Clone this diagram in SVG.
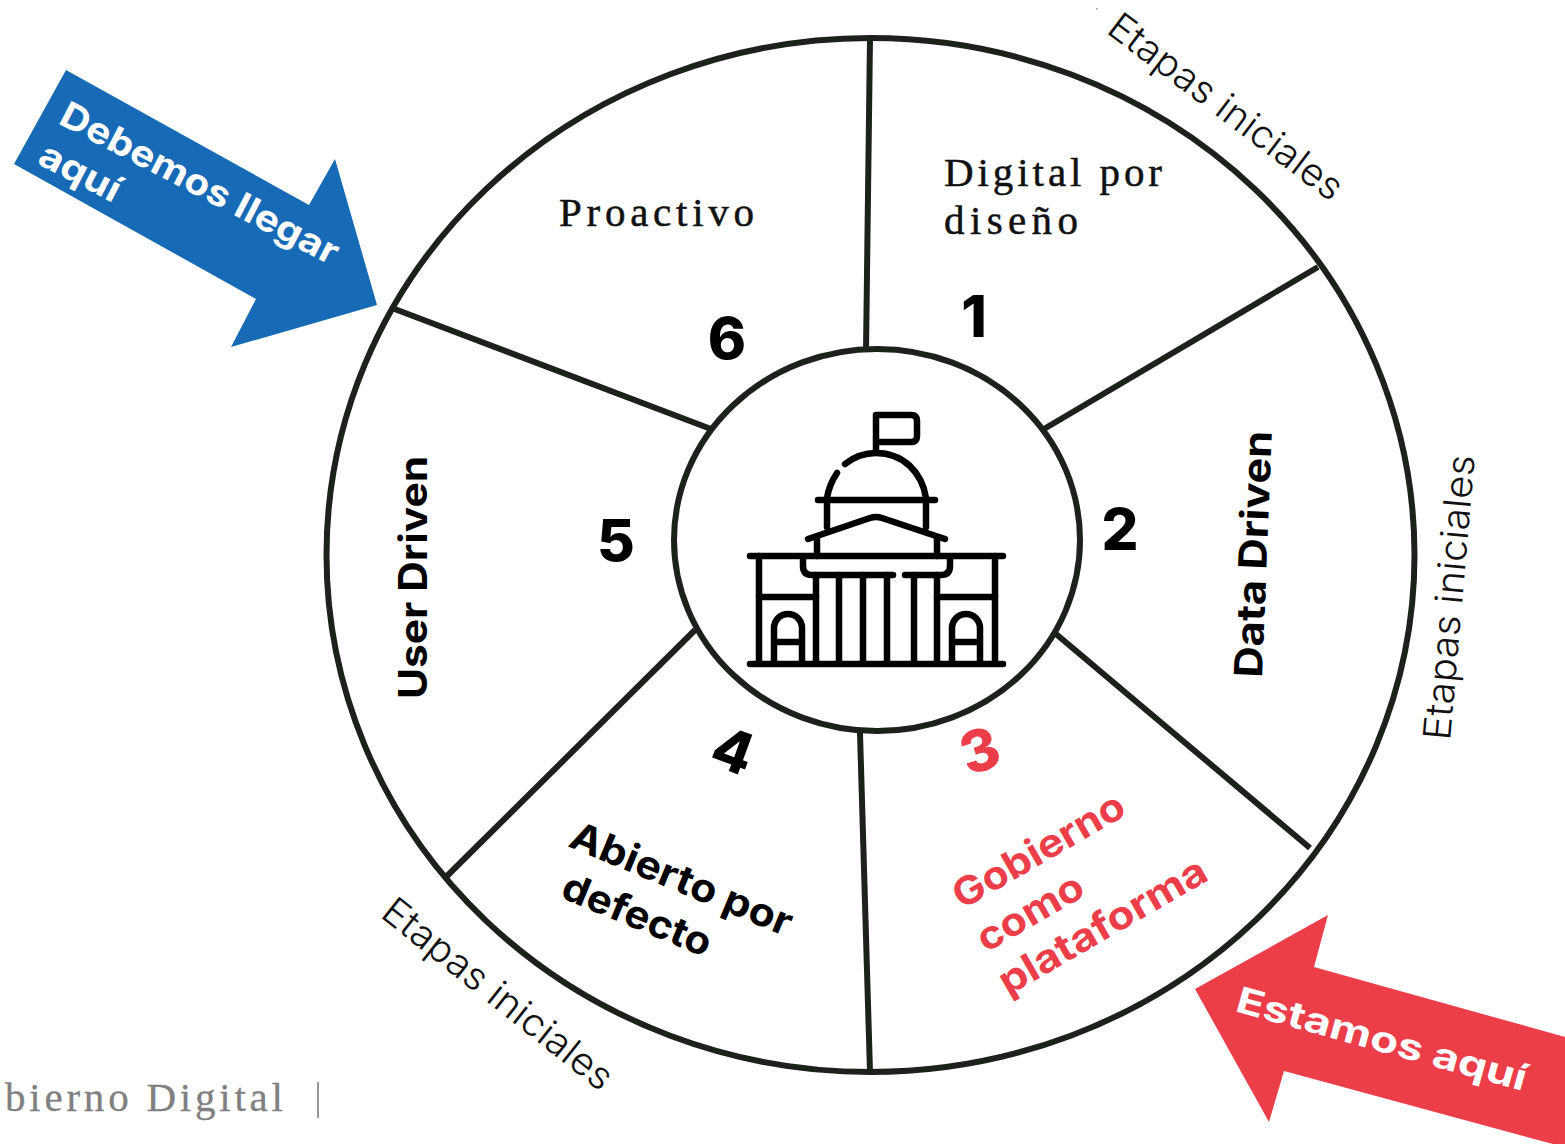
<svg xmlns="http://www.w3.org/2000/svg" width="1565" height="1144" viewBox="0 0 1565 1144">
<style>
.ring{fill:none;stroke:#1d211b;stroke-width:6}
.spoke{stroke:#1d211b;stroke-width:6;fill:none}
.ic{fill:none;stroke:#000;stroke-width:6.5;stroke-linecap:round;stroke-linejoin:round}
.b{font-family:"Inter","Open Sans",sans-serif;font-weight:700}
.l{font-family:"Inter","Open Sans",sans-serif;font-weight:300;font-size:38px;fill:#111}
.s{font-family:"Liberation Serif",serif;font-size:41px;fill:#111;stroke:#111;stroke-width:.5}
.n{font-size:58px;font-weight:800;fill:#000;text-anchor:middle}
.t{font-size:39px;fill:#000}
.r{fill:#ec3e49}
.w{fill:#fff;font-size:36px}
</style>
<rect width="1565" height="1144" fill="#fff"/>
<g id="connectors">
<ellipse class="ring" cx="870.5" cy="555" rx="544" ry="517"/>
<line class="spoke" x1="870" y1="38" x2="866" y2="352"/>
<line class="spoke" x1="1318" y1="267" x2="1044" y2="429"/>
<line class="spoke" x1="1310" y1="848" x2="1056" y2="634"/>
<line class="spoke" x1="870" y1="1072" x2="860" y2="733"/>
<line class="spoke" x1="446" y1="877" x2="695" y2="630"/>
<line class="spoke" x1="392" y1="308" x2="711" y2="429"/>
</g>
<g id="center">
<ellipse class="ring" cx="877" cy="540" rx="203" ry="191" fill="#fff"/>
<g class="ic">
<path d="M876,450V415H911Q917,415 917,421V436Q917,442 911,442H876"/>
<path d="M845,464Q859,453 876,453C903,453 922,472 926,498"/>
<path d="M837,473Q829,485 827,498"/>
<path d="M818,500H935"/>
<path d="M827,500V527M926,500V527"/>
<path d="M808,539L870,518Q876,516 882,518L945,539"/>
<path d="M817,539V556M937,539V556"/>
<path d="M750,556H1003"/>
<path d="M803,558V566Q803,575 812,575H893M905,575H941Q950,575 950,566V558"/>
<path d="M816,575V663M839,575V663M863,575V663M887,575V663M914,575V663M937,575V663"/>
<path d="M759,556V663M995,556V663"/>
<path d="M759,597H816M937,597H995"/>
<path d="M774,663V628A14,14 0 0 1 802,628V663M774,642H802"/>
<path d="M952,663V628A14,14 0 0 1 980,628V663M952,642H980"/>
<path d="M750,664H1003"/>
</g>
</g>
<g id="step1">
<text class="s" x="944" y="186" textLength="218">Digital por</text>
<text class="s" x="944" y="234" textLength="134">diseño</text>
<text class="b n" x="974" y="337">1</text>
</g>
<g id="step2">
<text class="b t" transform="translate(1262,678) rotate(-87.7)" textLength="247" lengthAdjust="spacingAndGlyphs">Data Driven</text>
<text class="b n" x="1120" y="550">2</text>
</g>
<g id="step3">
<text class="b t r" transform="translate(962,910) rotate(-30)" textLength="192" lengthAdjust="spacingAndGlyphs">Gobierno</text>
<text class="b t r" transform="translate(986,953) rotate(-30)" textLength="117" lengthAdjust="spacingAndGlyphs">como</text>
<text class="b t r" transform="translate(1008,996) rotate(-30)" textLength="234" lengthAdjust="spacingAndGlyphs">plataforma</text>
<text class="b n r" transform="translate(986,770) rotate(-18)">3</text>
</g>
<g id="step4">
<text class="b t" transform="translate(567,846) rotate(22.5)" textLength="237" lengthAdjust="spacingAndGlyphs">Abierto por</text>
<text class="b t" transform="translate(559,897) rotate(22.5)" textLength="158" lengthAdjust="spacingAndGlyphs">defecto</text>
<text class="b n" transform="translate(726,770) rotate(20)">4</text>
</g>
<g id="step5">
<text class="b t" transform="translate(427,699) rotate(-90)" textLength="243" lengthAdjust="spacingAndGlyphs">User Driven</text>
<text class="b n" x="616" y="561">5</text>
</g>
<g id="step6">
<text class="s" x="559" y="226" textLength="195">Proactivo</text>
<text class="b n" x="727" y="359">6</text>
</g>
<g id="arrow-blue">
<polygon points="66,70 309,205 335,159 377,305 231,347 256,299 14,164" fill="#176ab5"/>
<text class="b w" transform="translate(57,123) rotate(27.5)" textLength="309" lengthAdjust="spacingAndGlyphs">Debemos llegar</text>
<text class="b w" transform="translate(36,163) rotate(27.5)" textLength="87" lengthAdjust="spacingAndGlyphs">aquí</text>
</g>
<g id="arrow-red">
<polygon points="1328,915 1314,967 1565,1037 1565,1144 1553,1144 1284,1071 1269,1122 1195,989" fill="#ec3e49"/>
<text class="b w" transform="translate(1234,1011) rotate(15.5)" textLength="300" lengthAdjust="spacingAndGlyphs">Estamos aquí</text>
</g>
<g id="labels">
<text class="l" transform="translate(1105,32) rotate(37)" textLength="283" lengthAdjust="spacingAndGlyphs">Etapas iniciales</text>
<text class="l" transform="translate(1450,741) rotate(-85)" textLength="286" lengthAdjust="spacingAndGlyphs">Etapas iniciales</text>
<text class="l" transform="translate(379,916) rotate(38.5)" textLength="283" lengthAdjust="spacingAndGlyphs">Etapas iniciales</text>
<rect x="1096" y="8" width="1.5" height="1.5" fill="#999"/>
</g>
<g id="footer">
<text class="s" x="5" y="1111" textLength="278" style="fill:#808080;stroke:#808080;stroke-width:.3">bierno Digital</text>
<rect x="317" y="1082" width="2" height="36" fill="#999"/>
</g>
</svg>
